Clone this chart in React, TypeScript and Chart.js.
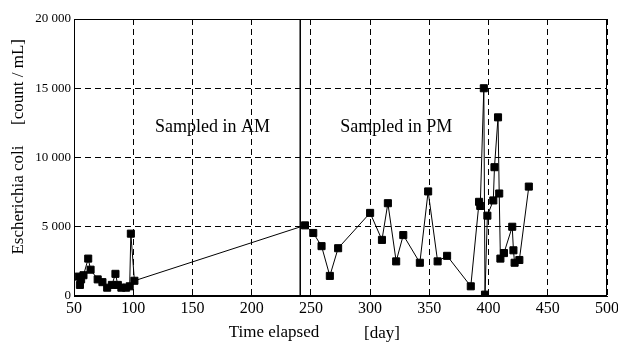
import React, { useEffect, useRef } from "react";
import { Chart, registerables } from "chart.js";

Chart.register(...registerables);

// Sampling day (time elapsed) and E. coli counts [count/mL]
const days = [
  54, 55, 56, 58, 62, 64, 70, 74, 78, 82, 85, 87, 90, 94, 97, 98, 101,
  245, 252, 259, 266, 273, 300, 310, 315, 322, 328, 342, 349, 357, 365,
  385, 392, 393, 396, 397, 399, 404, 405, 408, 409, 410, 413, 420, 421, 422, 426, 434,
];
const counts = [
  1400, 800, 1200, 1500, 2700, 1900, 1200, 1000, 600, 800, 1600, 800, 600, 600, 700, 4500, 1100,
  5100, 4550, 3600, 1450, 3450, 6000, 4050, 6700, 2500, 4400, 2400, 7550, 2500, 2900,
  700, 6800, 6500, 15000, 100, 5800, 6900, 9300, 12900, 7400, 2700, 3100, 5000, 3300, 2400, 2600, 7900,
];

const xTicks = [50, 100, 150, 200, 250, 300, 350, 400, 450, 500];
const yTicks = [0, 5000, 10000, 15000, 20000];
const dividerDay = [241, 241];
const dividerCount = [0, 20000];

const xTitle = "Time elapsed";
const xUnit = "[day]";
const yTitle = "Escherichia coli";
const yUnit = "[count / mL]";
const periodLabels = ["Sampled in AM", "Sampled in PM"];
const periodLabelDays = [167, 322];
const periodLabelCount = 12200;

const FONT = "'Liberation Serif', 'DejaVu Serif', serif";

function fmt(n: number): string {
  if (n >= 1000) {
    const th = Math.floor(n / 1000);
    const rest = String(n % 1000).padStart(3, "0");
    return `${th} ${rest}`;
  }
  return String(n);
}

const decorPlugin = {
  id: "decor",
  afterDraw(chart: any) {
    const { ctx, chartArea, scales } = chart;
    const { left, right, top, bottom } = chartArea;
    ctx.save();
    // frame
    ctx.strokeStyle = "#000";
    ctx.lineWidth = 1;
    ctx.setLineDash([]);
    ctx.strokeRect(left + 0.5, top + 0.5, right - left - 1, bottom - top - 1);

    ctx.fillStyle = "#000";
    // period labels
    ctx.font = `18px ${FONT}`;
    ctx.textAlign = "center";
    ctx.textBaseline = "middle";
    periodLabels.forEach((t, i) => {
      const x = scales.x.getPixelForValue(periodLabelDays[i]);
      const y = scales.y.getPixelForValue(periodLabelCount);
      ctx.fillText(t, x, y);
    });

    // x axis title
    ctx.font = `17px ${FONT}`;
    ctx.fillText(xTitle, left + 200, bottom + 37);
    ctx.fillText(xUnit, left + 308, bottom + 38);

    // y axis title (rotated)
    ctx.save();
    ctx.translate(19, 0);
    ctx.rotate(-Math.PI / 2);
    ctx.fillText(yTitle, -200, 0);
    ctx.fillText(yUnit, -82, 0);
    ctx.restore();
    ctx.restore();
  },
};

export default function App() {
  const ref = useRef<HTMLCanvasElement | null>(null);

  useEffect(() => {
    if (!ref.current) return;
    const chart = new Chart(ref.current, {
      type: "line",
      data: {
        datasets: [
          {
            label: "E. coli",
            data: days.map((d, i) => ({ x: d, y: counts[i] })),
            borderColor: "#000",
            borderWidth: 1,
            backgroundColor: "#000",
            pointStyle: "rect",
            pointRadius: 5,
            pointBorderWidth: 1,
            pointBorderColor: "#000",
            pointBackgroundColor: "#000",
            tension: 0,
          },
          {
            label: "divider",
            data: dividerDay.map((d, i) => ({ x: d, y: dividerCount[i] })),
            borderColor: "#000",
            borderWidth: 1.5,
            pointRadius: 0,
          },
        ],
      },
      options: {
        animation: false,
        responsive: true,
        maintainAspectRatio: false,
        layout: { padding: { top: 19, right: 11, left: 0, bottom: 0 } },
        plugins: {
          legend: { display: false },
          tooltip: { enabled: false },
        },
        scales: {
          x: {
            type: "linear",
            min: 50,
            max: 500,
            afterBuildTicks: (s: any) => {
              s.ticks = xTicks.map((v) => ({ value: v }));
            },
            afterFit: (s: any) => {
              s.height = 47;
              s.paddingLeft = 0;
              s.paddingRight = 0;
            },
            grid: { color: "#000", lineWidth: 1, drawTicks: false },
            border: { color: "#000", width: 1, dash: [6, 4] },
            ticks: {
              color: "#000",
              padding: 3,
              maxRotation: 0,
              autoSkip: false,
              font: { family: FONT, size: 16 },
              callback: (v: any) => String(v),
            },
          },
          y: {
            min: 0,
            max: 20000,
            afterBuildTicks: (s: any) => {
              s.ticks = yTicks.map((v) => ({ value: v }));
            },
            afterFit: (s: any) => {
              s.width = 74;
              s.paddingTop = 0;
              s.paddingBottom = 0;
            },
            grid: { color: "#000", lineWidth: 1, drawTicks: false },
            border: { color: "#000", width: 1, dash: [6, 4] },
            ticks: {
              color: "#000",
              padding: 3,
              font: { family: FONT, size: 13 },
              callback: (v: any) => fmt(Number(v)),
            },
          },
        },
      },
      plugins: [decorPlugin],
    } as any);
    return () => chart.destroy();
  }, []);

  return (
    <div style={{ position: "fixed", left: 0, top: 0, width: 618, height: 343, background: "#fff" }}>
      <canvas ref={ref} />
    </div>
  );
}
